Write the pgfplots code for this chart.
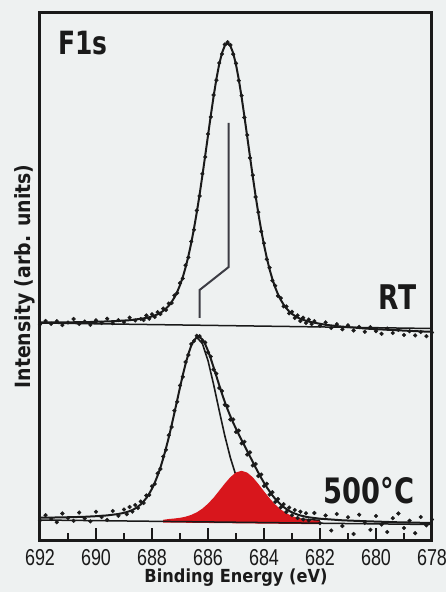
\documentclass[border=0pt]{standalone}
\usepackage{fontspec}
\setmainfont{DejaVu Sans}
\newfontfamily\labfont{DejaVu Sans}[FakeStretch=0.9]
\newfontfamily\bigfont{DejaVu Sans}[FakeStretch=0.78]
\newfontfamily\tickfont{Liberation Sans}[FakeStretch=0.78]
\usepackage{pgfplots}
\pgfplotsset{compat=1.18}
\definecolor{bgcol}{HTML}{EEF1F1}
\definecolor{ink}{HTML}{1A1A1A}
\definecolor{stick}{HTML}{3C3C44}
\definecolor{redc}{HTML}{D8161C}

\begin{document}
\begin{tikzpicture}
\fill[bgcol] (-40pt,-52pt) rectangle (406pt,540pt);
\begin{axis}[at={(0,0)},anchor=south west,scale only axis,width=392pt,height=527pt,
  xmin=678,xmax=692,x dir=reverse,ymin=0,ymax=527,axis on top,
  xtick={678,680,...,692},minor xtick={679,681,...,691},ytick=\empty,
  tick pos=left,tick align=inside,major tick length=11pt,minor tick length=6pt,
  every tick/.append style={ink,line width=2pt},
  axis line style={ink,line width=3pt},
  /pgf/number format/assume math mode=true,
  xticklabel style={font=\tickfont\fontsize{23}{23}\selectfont,text=ink,inner sep=0pt,yshift=-9pt},
  xlabel={Binding Energy (eV)},ylabel={Intensity (arb. units)},
  xlabel style={font=\labfont\bfseries\fontsize{18}{18}\selectfont,text=ink,
    at={(axis description cs:0.5,0)},anchor=north,inner sep=0pt,yshift=-29pt},
  ylabel style={font=\labfont\bfseries\fontsize{21}{21}\selectfont,text=ink,
    at={(axis description cs:-0.013,0.5)},anchor=south,inner sep=0pt}]

% tick marks along the lower edge drawn as bar marks (major and minor)
\addplot[only marks,mark=|,mark size=6pt,mark options={ink,line width=2.2pt}] coordinates {(690,6)(688,6)(686,6)(684,6)(682,6)(680,6)};
\addplot[only marks,mark=|,mark size=3.5pt,mark options={ink,line width=2.2pt}] coordinates {(691,3.5)(689,3.5)(687,3.5)(685,3.5)(683,3.5)(681,3.5)(679,3.5)};

% RT fit
\addplot[ink,line width=2pt] coordinates {(692.0,217.7)(691.3,217.6)(690.3,217.9)(689.3,218.9)(688.8,219.8)
(688.3,221.6)(688.2,222.2)(688.1,222.8)(688.0,223.6)(687.9,224.6)(687.8,225.7)(687.7,227.2)(687.6,229.1)
(687.5,231.4)(687.4,234.3)(687.3,238.0)(687.2,242.5)(687.1,248.1)(687.0,254.8)(686.9,262.9)(686.8,272.6)
(686.7,283.9)(686.6,296.7)(686.5,311.5)(686.4,327.7)(686.3,345.4)(686.2,364.5)(686.1,384.3)(686.0,404.4)
(685.9,424.5)(685.8,443.6)(685.7,461.0)(685.6,475.8)(685.5,487.1)(685.4,494.3)(685.3,496.7)(685.2,494.1)
(685.1,486.9)(685.0,475.4)(684.9,460.5)(684.8,443.0)(684.7,423.7)(684.6,403.5)(684.5,383.3)(684.4,363.3)
(684.3,344.2)(684.2,326.3)(684.1,309.9)(684.0,295.1)(683.9,282.1)(683.8,270.6)(683.7,260.9)(683.6,252.6)
(683.5,245.7)(683.4,240.1)(683.3,235.4)(683.2,231.6)(683.1,228.6)(683.0,226.1)(682.9,224.2)(682.8,222.5)
(682.7,221.2)(682.6,220.2)(682.5,219.2)(682.4,218.4)(682.3,217.8)(681.8,215.2)(681.3,213.6)(680.3,211.3)
(679.3,209.8)(678.3,208.5)(678.0,208.2)};
% RT background line
\addplot[ink,line width=1.5pt] coordinates {(692,217)(678,211.5)};
% RT peak marker
\addplot[stick,line width=2pt] coordinates {(685.26,417)(685.26,273)(686.30,250)(686.30,222)};

% 500 C total fit
\addplot[ink,line width=2pt] coordinates {(692.0,22.3)(691.2,22.6)(690.4,23.2)(690.0,23.8)(689.6,24.6)(689.2,26.0)
(689.0,27.2)(688.9,27.9)(688.8,28.9)(688.7,30.0)(688.6,31.5)(688.5,33.4)(688.4,35.6)(688.3,38.6)(688.2,42.0)
(688.1,46.3)(688.0,51.3)(687.9,57.3)(687.8,64.4)(687.7,72.3)(687.6,81.6)(687.5,91.7)(687.4,102.7)(687.3,114.6)
(687.2,127.1)(687.1,139.8)(687.0,152.6)(686.9,164.9)(686.8,176.2)(686.7,186.2)(686.6,194.2)(686.5,199.7)
(686.4,202.7)(686.3,202.9)(686.2,200.5)(686.1,195.8)(686.0,189.2)(685.9,181.3)(685.8,172.7)(685.7,163.8)
(685.6,154.9)(685.5,146.2)(685.4,138.1)(685.3,130.6)(685.2,123.7)(685.1,117.2)(685.0,111.4)(684.9,105.6)
(684.8,100.0)(684.7,94.6)(684.6,89.0)(684.5,83.5)(684.4,78.0)(684.3,72.5)(684.2,67.2)(684.1,62.1)(684.0,57.3)
(683.9,52.7)(683.8,48.6)(683.7,44.6)(683.6,41.2)(683.5,38.2)(683.4,35.4)(683.3,33.0)(683.2,31.0)(683.1,29.1)
(683.0,27.7)(682.9,26.5)(682.8,25.4)(682.7,24.5)(682.6,23.9)(682.5,23.2)(682.4,22.7)(682.0,21.3)(681.2,19.7)
(680.4,18.8)(679.2,17.7)(678.0,17.0)};
% main component
\addplot[ink,line width=1.6pt] coordinates {(686.4,202.7)(686.2,196.4)(686.0,179.4)(685.8,155.6)(685.6,129.5)
(685.4,104.3)(685.2,82.2)(685.0,64.3)(684.8,50.6)(684.6,40.8)(684.4,34.2)(684.2,29.8)(684.0,26.9)(683.6,23.8)
(683.2,22.2)(682.8,21.1)(682.4,20.3)(682.0,19.7)};
% second component (filled)
\addplot[draw=none,fill=redc] coordinates {(687.6,20.2)(687.4,21.0)(687.2,21.5)(687.0,22.2)(686.8,23.3)(686.6,25.1)(686.4,27.7)
(686.2,31.4)(686.0,36.3)(685.8,42.3)(685.6,49.3)(685.4,56.4)(685.2,62.9)(685.0,67.6)(684.8,69.2)(684.6,67.4)
(684.4,62.7)(684.2,56.0)(684.0,48.7)(683.8,41.7)(683.6,35.5)(683.4,30.5)(683.2,26.7)(683.0,23.9)(682.8,22.1)
(682.6,20.8)(682.4,19.9)(682.2,19.4)(682.0,19.0)(682.0,15.8)(687.6,17.5)} -- cycle;
% 500 C background line
\addplot[ink,line width=1.5pt] coordinates {(692,20)(678,15.5)};

% RT data
\addplot[only marks,mark=*,mark size=1.9pt,ink] coordinates {(692.0,215.5)(691.8,219.0)(691.6,216.2)(691.4,218.8)
(691.2,214.9)(691.0,217.5)(690.8,221.0)(690.6,216.0)(690.4,218.4)(690.2,215.1)(690.0,219.6)(689.8,217.0)
(689.6,221.3)(689.4,216.8)(689.2,219.9)(689.0,218.0)(688.8,222.4)(688.6,219.5)(688.4,221.0)
(688.3,220.0)(688.2,224.5)(688.1,221.3)(688.0,225.8)(687.9,223.0)(687.8,227.9)(687.7,226.0)(687.6,231.4)
(687.5,230.0)(687.4,236.5)(687.3,237.0)(687.2,244.6)(687.1,247.0)(687.0,256.9)(686.9,261.5)(686.8,274.8)
(686.7,282.6)(686.6,298.5)(686.5,310.2)(686.4,329.6)(686.3,344.0)(686.2,366.1)(686.1,383.0)(686.0,406.0)
(685.9,423.1)(685.8,445.0)(685.7,459.8)(685.6,477.0)(685.5,486.0)(685.4,495.5)(685.3,497.8)(685.2,495.0)
(685.1,485.8)(685.0,476.6)(684.9,459.4)(684.8,444.4)(684.7,422.5)(684.6,405.0)(684.5,382.1)(684.4,364.8)
(684.3,343.0)(684.2,327.9)(684.1,308.6)(684.0,296.8)(683.9,280.7)(683.8,272.3)(683.7,259.4)(683.6,254.3)
(683.5,244.1)(683.4,241.9)(683.3,233.6)(683.2,233.5)(683.1,226.7)(683.0,228.2)(682.9,222.0)(682.8,224.6)
(682.7,219.0)(682.6,222.3)(682.5,217.0)(682.4,220.4)(682.3,215.9)
(682.2,218.9)(682.0,214.3)(681.8,217.6)(681.6,212.0)(681.4,215.8)(681.2,210.7)(681.0,214.6)(680.8,209.5)
(680.6,213.1)(680.4,208.2)(680.2,212.9)(680.0,208.9)(679.8,206.2)(679.6,211.4)(679.4,207.0)(679.2,210.1)
(679.0,205.0)(678.8,208.8)(678.6,204.6)(678.4,208.0)(678.2,203.8)(678.0,207.5)};

% 500 C data
\addplot[only marks,mark=*,mark size=1.9pt,ink] coordinates {(692.0,19.5)(691.8,24.8)(691.6,21.0)(691.4,17.8)
(691.2,26.5)(691.0,22.0)(690.8,19.2)(690.6,27.4)(690.4,21.5)(690.2,18.6)(690.0,28.2)(689.8,23.0)(689.6,20.1)
(689.4,29.0)(689.2,24.2)
(689.0,30.5)(688.9,25.8)(688.8,33.0)(688.7,28.4)(688.6,35.0)(688.5,32.0)(688.4,38.4)(688.3,37.0)(688.2,44.5)
(688.1,45.0)(688.0,53.8)(687.9,56.0)(687.8,66.6)(687.7,71.0)(687.6,83.5)(687.5,90.3)(687.4,104.8)(687.3,113.0)
(687.2,129.3)(687.1,138.2)(687.0,154.5)(686.9,163.2)(686.8,178.0)(686.7,185.0)(686.6,196.0)(686.5,199.0)
(686.4,204.2)(686.3,203.8)(686.2,199.2)(686.1,197.5)(686.0,187.6)(685.9,183.5)(685.8,170.5)(685.7,166.4)
(685.6,152.0)(685.5,149.0)(685.4,135.2)(685.3,133.8)(685.2,120.5)(685.1,120.6)(685.0,108.0)(684.9,109.4)
(684.8,96.6)(684.7,98.2)(684.6,85.4)(684.5,87.6)(684.4,74.5)(684.3,76.0)(684.2,64.0)(684.1,65.5)(684.0,54.0)
(683.9,56.2)(683.8,45.4)(683.7,47.8)(683.6,38.0)(683.5,41.0)(683.4,32.6)(683.3,35.8)(683.2,28.0)(683.1,32.4)
(683.0,24.8)(682.9,30.0)(682.8,22.0)(682.7,28.3)(682.6,20.6)(682.5,26.8)(682.4,19.5)
(682.2,27.0)(682.0,16.8)(681.8,24.5)(681.6,9.5)(681.4,26.0)(681.2,14.0)(681.0,22.8)(680.8,6.0)(680.6,25.3)
(680.4,17.0)(680.2,10.2)(680.0,24.0)(679.8,15.5)(679.6,8.0)(679.4,21.8)(679.2,26.5)(679.0,12.0)(678.8,19.3)
(678.6,6.8)(678.4,23.0)(678.2,14.6)(678.0,20.5)};

\node[anchor=base west,inner sep=0pt,text=ink,font=\bigfont\bfseries\fontsize{32}{32}\selectfont] at (axis cs:691.35,485) {F1s};
\node[anchor=base east,inner sep=0pt,text=ink,font=\bigfont\bfseries\fontsize{34}{34}\selectfont] at (axis cs:678.56,230) {RT};
\node[anchor=base east,inner sep=0pt,text=ink,font=\bigfont\bfseries\fontsize{35}{35}\selectfont] at (axis cs:678.63,37) {500°C};
\end{axis}
\end{tikzpicture}
\end{document}
